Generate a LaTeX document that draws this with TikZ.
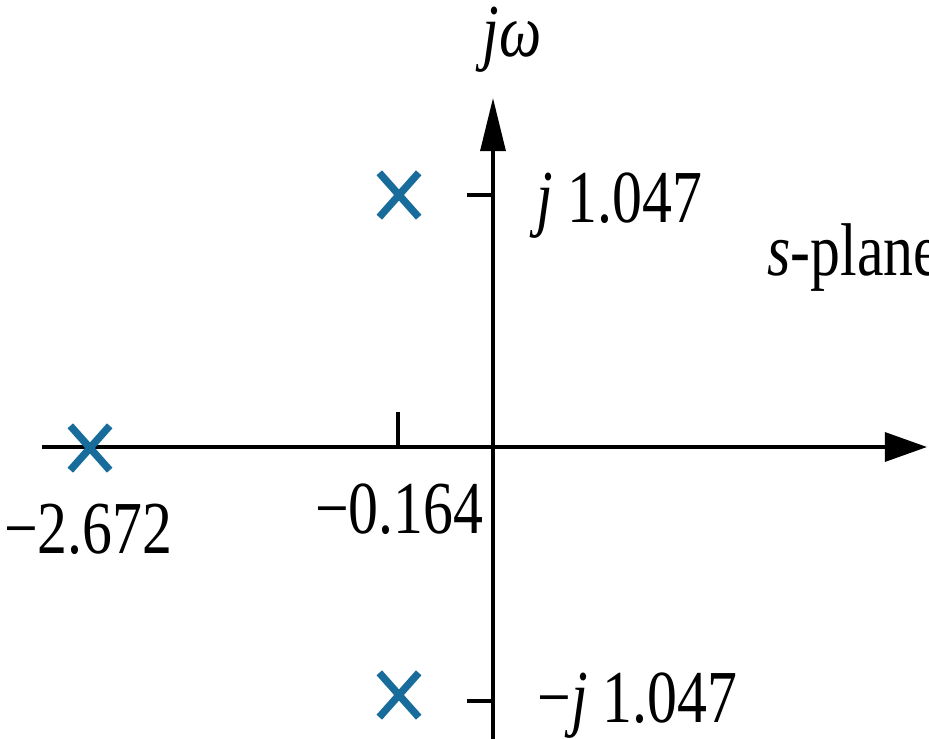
\documentclass[tikz,border=0pt]{standalone}
\usepackage{fontspec}
\setmainfont{Liberation Serif}
\usetikzlibrary{arrows.meta, shapes.misc}
\definecolor{poleblue}{RGB}{24,108,156}
\newcommand{\tall}[1]{\scalebox{1}[1.25]{#1}}

\begin{document}
\begin{tikzpicture}[
    x=0.01cm, y=-0.01cm,
    axis/.style={line width=0.9pt},
    tickmark/.style={line width=0.9pt},
    pole/.style={cross out, draw=poleblue, line width=2.1pt, minimum width=0.32cm, minimum height=0.37cm, inner sep=0pt},
    lbl/.style={inner sep=0pt, font=\fontsize{17}{20}\selectfont}
]
\useasboundingbox (0,0) rectangle (929,739);
% axes
\coordinate (re0) at (42,447);
\coordinate (re1) at (927,447);
\coordinate (im0) at (493,745);
\coordinate (im1) at (493,98);
\draw[axis, -{Triangle[length=0.42cm, width=0.29cm]}] (re0) -- (re1);
\draw[axis, -{Triangle[length=0.53cm, width=0.25cm]}] (im0) -- (im1);

% ticks
\coordinate (tkup) at (467,195);
\coordinate (tkdn) at (467,701);
\coordinate (tkre) at (398,412);
\draw[tickmark] (tkup) -- (tkup -| im1);
\draw[tickmark] (tkdn) -- (tkdn -| im1);
\draw[tickmark] (tkre) -- (tkre |- re0);

% poles
\node[pole] (p1) at (90,448) {};
\node[pole] (p2) at (399,195) {};
\node[pole] (p3) at (399,695) {};

% labels
\node[lbl, anchor=base east] (jw) at (542,56) {\tall{\textit{jω}}};
\node[lbl, anchor=base east] (wup) at (703,222) {\tall{\textit{j} 1.047}};
\node[lbl, anchor=base east] (wdn) at (738,722) {\tall{−\textit{j} 1.047}};
\node[lbl, anchor=base east] (sig1) at (484,533) {\tall{−0.164}};
\node[lbl, anchor=base east] (sig2) at (173,553) {\tall{−2.672}};
\node[lbl, anchor=base west] (spl) at (767,275) {\tall{\textit{s}-plane}};
\end{tikzpicture}
\end{document}
